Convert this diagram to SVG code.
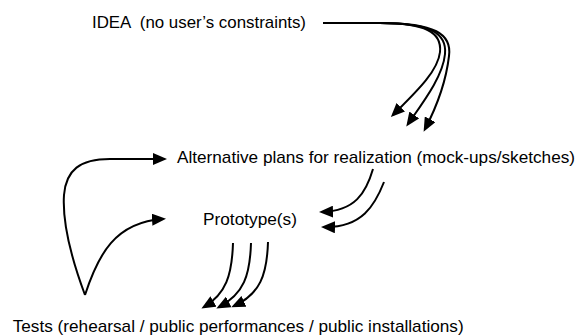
<svg xmlns="http://www.w3.org/2000/svg" width="578" height="335" viewBox="0 0 578 335">
<style>
text{font-family:"Liberation Sans",Arial,Helvetica,sans-serif;font-size:16.2px;fill:#000}
.c path{fill:none;stroke:#000;stroke-width:2;marker-end:url(#ah)}
</style>
<defs>
<marker id="ah" markerUnits="userSpaceOnUse" viewBox="0 0 14 12" markerWidth="14" markerHeight="12" refX="11" refY="6" orient="auto">
<path d="M0,0 L14,6 L0,12 z" fill="#000"/>
</marker>
</defs>
<rect width="578" height="335" fill="#fff"/>
<g id="idea"><text x="92" y="28" textLength="214" lengthAdjust="spacingAndGlyphs" xml:space="preserve">IDEA  (no user’s constraints)</text></g>
<g id="alternatives"><text x="177" y="163" textLength="398" lengthAdjust="spacingAndGlyphs">Alternative plans for realization (mock-ups/sketches)</text></g>
<g id="prototype"><text x="203" y="225" textLength="94" lengthAdjust="spacingAndGlyphs">Prototype(s)</text></g>
<g id="tests"><text x="12.7" y="331.5" textLength="451" lengthAdjust="spacingAndGlyphs">Tests (rehearsal / public performances / public installations)</text></g>
<g id="connectors" class="c">
<path d="M323,23 L380,23 C425,23 442,32 440,52 C438,72 414,94 393,115"/>
<path d="M323,23 L380,23 C430,23 447,33 445,54 C443,76 424,101 408,124"/>
<path d="M323,23 L380,23 C435,23 452,34 449,56 C446,82 436,108 425,129"/>
<path d="M373,169 C366,193 355,211 322,212"/>
<path d="M384,182 C375,205 362,228 324,227"/>
<path d="M85,295 C72,260 62,225 64,195 C66,170 80,159 110,159 L164,159"/>
<path d="M85,295 C98,255 115,222 163,219"/>
<path d="M233,243 C232,275 226,294 204,307"/>
<path d="M251,243 C250,275 244,294 219,307"/>
<path d="M268,242 C267,275 260,294 234,306"/>
</g>
</svg>
